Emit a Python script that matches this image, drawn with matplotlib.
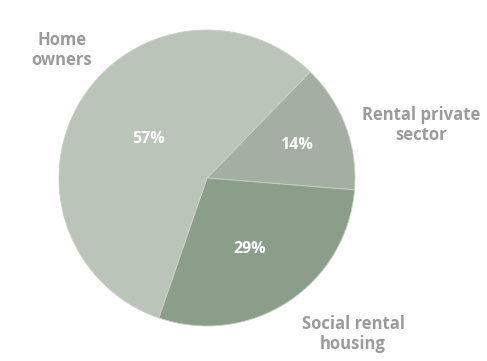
import matplotlib.pyplot as plt

# Slice data (clockwise from the top-right boundary)
labels = ['Rental private\nsector', 'Social rental\nhousing', 'Home\nowners']
shares = [14, 29, 57]
colors = ['#a5aea2', '#8b9e8a', '#bbc4b8']

# Outer label positions (pixels, y measured from top)
label_pos = [(421, 125), (353, 334), (62, 50)]
pct_pos = [(296, 145), (250, 249), (149, 139)]

W, H = 487, 361
fig = plt.figure(figsize=(W / 100, H / 100), dpi=100)
ax = fig.add_axes([0, 0, 1, 1])

ax.pie(shares, colors=colors, startangle=45.8, counterclock=False,
       center=(207, H - 178), radius=148, frame=True,
       wedgeprops=dict(linewidth=0.6, edgecolor='#c9d0c6'))
ax.set_xlim(0, W)
ax.set_ylim(0, H)
ax.axis('off')

font = 'Open Sans'
for lab, (x, y) in zip(labels, label_pos):
    ax.text(x, H - y, lab, ha='center', va='center', fontsize=12,
            fontweight='bold', color='#9b9b9b', family=font, linespacing=1.2)

for s, (x, y) in zip(shares, pct_pos):
    ax.text(x, H - y, f'{s}%', ha='center', va='center', fontsize=11.5,
            fontweight='bold', color='white', family=font)

fig.savefig('out.png', dpi=100)
